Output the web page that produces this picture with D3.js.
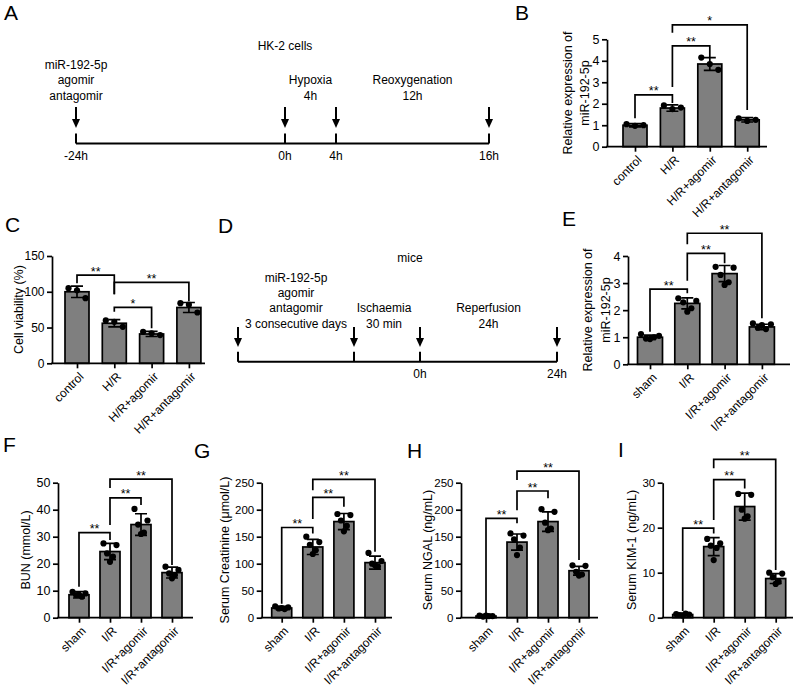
<!DOCTYPE html>
<html><head><meta charset="utf-8">
<script src="https://cdn.jsdelivr.net/npm/d3@7"></script>
<style>body{margin:0;background:#fff} svg{display:block;font-family:"Liberation Sans",Arial,sans-serif}</style>
</head><body><svg id="c" width="800" height="687"></svg>
<script>
// ================= DATA =================
// Panel A (HK-2 timeline)
const A_hours = [-24, 0, 4, 16];
const A_tickLabels = ["-24h", "0h", "4h", "16h"];
const A_title = "HK-2 cells";
const A_notes = [
  {between: [0, 0], lines: ["miR-192-5p", "agomir", "antagomir"]},
  {between: [1, 2], lines: ["Hypoxia", "4h"]},
  {between: [2, 3], lines: ["Reoxygenation", "12h"]}
];
// Panel D (mice timeline)
const D_hours = [-72, -0.5, 0, 24];
const D_tickLabels = ["", "", "0h", "24h"];
const D_title = "mice";
const D_notes = [
  {between: [0, 1], lines: ["miR-192-5p", "agomir", "antagomir", "3 consecutive days"]},
  {between: [1, 2], lines: ["Ischaemia", "30 min"]},
  {between: [2, 3], lines: ["Reperfusion", "24h"]}
];

// Panel B
const B_categories = ["control", "H/R", "H/R+agomir", "H/R+antagomir"];
const B_means = [1.0, 1.8, 3.85, 1.25];
const B_sd = [0.08, 0.15, 0.3, 0.1];
const B_points = [[1.05, 0.97, 1.0], [1.92, 1.75, 1.82], [4.15, 3.85, 3.58], [1.32, 1.2, 1.25]];
const B_ticks = [0, 1, 2, 3, 4, 5];
const B_sig = [[0, 1, 2.41, 1.33, 2.03, "**"], [1, 2, 4.69, 2.78, 4.18, "**"], [1, 3, 5.67, 5.3, 1.71, "*"]];
const B_ylabel = ["Relative expression of", "miR-192-5p"];

// Panel C
const C_categories = ["control", "H/R", "H/R+agomir", "H/R+antagomir"];
const C_means = [100, 56, 41, 78];
const C_sd = [8, 5, 3.5, 7];
const C_points = [[105, 102, 91], [60, 58, 51], [44, 42, 39.5], [84, 82, 71]];
const C_ticks = [0, 50, 100, 150];
const C_sig = [[0, 1, 123.4, 112, 96.4, "**"], [1, 3, 113, 96.4, 87, "**"], [1, 2, 78.2, 72, 49, "*"]];
const C_ylabel = ["Cell viability (%)"];

// Panel E
const E_categories = ["sham", "I/R", "I/R+agomir", "I/R+antagomir"];
const E_means = [1.0, 2.25, 3.35, 1.38];
const E_sd = [0.08, 0.2, 0.3, 0.1];
const E_points = [[1.12, 1.05, 0.95, 1.0, 0.93], [2.44, 2.34, 2.29, 2.07, 1.94], [3.6, 3.57, 3.3, 3.03, 2.93], [1.51, 1.48, 1.35, 1.3, 1.45]];
const E_ticks = [0, 1, 2, 3, 4];
const E_sig = [[0, 1, 2.78, 1.2, 2.62, "**"], [1, 2, 4.1, 3.09, 3.73, "**"], [1, 3, 4.84, 4.43, 1.7, "**"]];
const E_ylabel = ["Relative expression of", "miR-192-5p"];

// Panel F
const F_categories = ["sham", "I/R", "I/R+agomir", "I/R+antagomir"];
const F_means = [8.5, 24.5, 34.5, 16.7];
const F_sd = [1.2, 3, 4, 2];
const F_points = [[9.6, 9.0, 8.4, 7.8, 8.6], [27.5, 26.9, 23.8, 22.6, 20.7], [40.3, 36.0, 34.5, 31.5, 31.0], [18.9, 17.7, 16.4, 15.8, 14.6]];
const F_ticks = [0, 10, 20, 30, 40, 50];
const F_sig = [[0, 1, 31.5, 11.5, 28.8, "**"], [1, 2, 44.4, 34.3, 41.7, "**"], [1, 3, 51.3, 48, 19.5, "**"]];
const F_ylabel = ["BUN (mmol/L)"];

// Panel G
const G_categories = ["sham", "I/R", "I/R+agomir", "I/R+antagomir"];
const G_means = [18, 131, 178, 102];
const G_sd = [3, 14, 15, 12];
const G_points = [[21, 19, 17, 16, 18], [150, 140, 135, 125, 118], [192, 190, 180, 170, 160], [120, 105, 100, 95, 97]];
const G_ticks = [0, 50, 100, 150, 200, 250];
const G_sig = [[0, 1, 167, 26, 156, "**"], [1, 2, 223, 183, 205.6, "**"], [1, 3, 256, 236, 122, "**"]];
const G_ylabel = ["Serum Creatinine (\u03bcmol/L)"];

// Panel H
const H_categories = ["sham", "I/R", "I/R+agomir", "I/R+antagomir"];
const H_means = [3, 140, 178, 87];
const H_sd = [1, 15, 18, 8];
const H_points = [[4, 3, 2, 3, 4], [156, 152, 145, 130, 116], [201, 196, 176, 165, 162], [97, 96, 85, 80, 78]];
const H_ticks = [0, 50, 100, 150, 200, 250];
const H_sig = [[0, 1, 184, 8, 175, "**"], [1, 2, 234.6, 199, 221, "**"], [1, 3, 271.6, 255, 107, "**"]];
const H_ylabel = ["Serum NGAL (ng/mL)"];

// Panel I
const I_categories = ["sham", "I/R", "I/R+agomir", "I/R+antagomir"];
const I_means = [0.7, 15.8, 24.7, 8.7];
const I_sd = [0.2, 2, 3, 1.1];
const I_points = [[0.8, 0.7, 0.6, 0.9, 0.5], [17.5, 16.5, 16, 15.5, 12.8], [27.5, 27.3, 24, 22.5, 22], [10, 9.8, 9, 8, 7.5]];
const I_ticks = [0, 10, 20, 30];
const I_sig = [[0, 1, 19.9, 1.5, 18.7, "**"], [1, 2, 30.7, 21.7, 28.7, "**"], [1, 3, 35.2, 33.2, 10.6, "**"]];
const I_ylabel = ["Serum KIM-1 (ng/mL)"];

const panelLetters = ["A", "B", "C", "D", "E", "F", "G", "H", "I"];

// ================= DRAWING =================
const svg = d3.select("#c");
svg.append("rect").attr("width", 800).attr("height", 687).attr("fill", "#fff");
const FONT = "'Liberation Sans', Arial, sans-serif";
const LW = 1.7;

function timeline(L, hours, labels, title, notes) {
  const g = svg.append("g").attr("font-family", FONT).attr("font-size", 12);
  const x = d3.scaleLinear().domain(hours).range(L.xs);
  g.append("line").attr("x1", x(hours[0])).attr("x2", x(hours[hours.length - 1]))
    .attr("y1", L.y).attr("y2", L.y).attr("stroke", "#000").attr("stroke-width", 2);
  g.selectAll("line.tk").data(hours).join("line").attr("class", "tk")
    .attr("x1", d => x(d)).attr("x2", d => x(d)).attr("y1", L.y - 10).attr("y2", L.y)
    .attr("stroke", "#000").attr("stroke-width", 2);
  g.selectAll("line.ar").data(hours).join("line").attr("class", "ar")
    .attr("x1", d => x(d)).attr("x2", d => x(d)).attr("y1", L.arTop).attr("y2", L.arBot - 5)
    .attr("stroke", "#000").attr("stroke-width", 2);
  g.selectAll("path.ah").data(hours).join("path").attr("class", "ah")
    .attr("d", d => `M${x(d) - 4},${L.arBot - 9}L${x(d) + 4},${L.arBot - 9}L${x(d)},${L.arBot}Z`)
    .attr("fill", "#000");
  g.selectAll("text.tl").data(hours).join("text").attr("class", "tl")
    .attr("x", d => x(d)).attr("y", L.y + 16.5).attr("text-anchor", "middle")
    .text((d, i) => labels[i]);
  g.append("text").attr("x", L.titleX).attr("y", L.titleY).attr("text-anchor", "middle").text(title);
  notes.forEach((n, ni) => {
    const cx = (x(hours[n.between[0]]) + x(hours[n.between[1]])) / 2 + (L.noteShift ? L.noteShift[ni] : 0);
    const k = n.lines.length;
    n.lines.forEach((t, i) => {
      g.append("text").attr("x", cx).attr("y", L.noteBase - (k - 1 - i) * 15.3)
        .attr("text-anchor", "middle").text(t);
    });
  });
}

function barPanel(L, cats, means, sds, pts, ticks, sig, ylabel) {
  const g = svg.append("g").attr("font-family", FONT);
  const y = d3.scaleLinear().domain([0, d3.max(ticks)]).range([L.y0, L.yTop]);
  const x = d3.scalePoint().domain(cats).range([L.first, L.first + L.step * (cats.length - 1)]);
  const rows = cats.map((c, i) => ({c, m: means[i], sd: sds[i], p: pts[i]}));

  // bars
  g.selectAll("rect.bar").data(rows).join("rect").attr("class", "bar")
    .attr("x", d => x(d.c) - L.bw / 2).attr("width", L.bw)
    .attr("y", d => y(d.m)).attr("height", d => L.y0 - y(d.m))
    .attr("fill", "#7f7f7f").attr("stroke", "#000").attr("stroke-width", LW);

  // points
  const half = L.bw / 2 - 3.5;
  const pat = {3: [-1, 0, 1], 5: [-1, 1, -0.45, 0.45, 0]};
  rows.forEach(r => {
    const p = pat[r.p.length];
    g.selectAll(null).data(r.p).join("circle")
      .attr("cx", (d, i) => x(r.c) + p[i] * half).attr("cy", d => y(d)).attr("r", 3.1).attr("fill", "#000");
  });

  // error bars
  const cap = 6;
  rows.forEach(r => {
    const cx = x(r.c);
    g.append("path")
      .attr("d", `M${cx},${y(r.m - r.sd)}V${y(r.m + r.sd)}M${cx - cap},${y(r.m + r.sd)}H${cx + cap}M${cx - cap},${y(r.m - r.sd)}H${cx + cap}`)
      .attr("stroke", "#000").attr("stroke-width", LW).attr("fill", "none");
  });

  // y axis
  const ya = g.append("g").attr("transform", `translate(${L.ax},0)`)
    .call(d3.axisLeft(y).tickValues(ticks).tickFormat(d3.format("d")).tickSize(5).tickSizeOuter(0).tickPadding(2.5));
  ya.attr("font-family", FONT).attr("font-size", L.tfs || 12.5);
  ya.select(".domain").attr("stroke-width", LW).attr("stroke", "#000");
  ya.selectAll(".tick line").attr("stroke-width", LW).attr("stroke", "#000");
  ya.selectAll(".tick text").attr("fill", "#000");

  // x axis
  const xa = g.append("g").attr("transform", `translate(0,${L.y0})`)
    .call(d3.axisBottom(x).tickSize(5).tickSizeOuter(0));
  xa.select(".domain").remove();
  xa.attr("font-family", FONT).attr("font-size", 12);
  xa.selectAll(".tick line").attr("stroke-width", LW).attr("stroke", "#000");
  xa.selectAll(".tick text").attr("fill", "#000").attr("x", 0).attr("y", 0).attr("dy", "0.35em")
    .attr("text-anchor", "end").attr("transform", "translate(4,11) rotate(-45)");
  g.append("line").attr("x1", L.ax - LW / 2).attr("x2", L.xEnd).attr("y1", L.y0).attr("y2", L.y0)
    .attr("stroke", "#000").attr("stroke-width", LW);

  // significance brackets
  sig.forEach(([a, b, top, le, re, lab]) => {
    const xa1 = x(cats[a]), xb1 = x(cats[b]);
    g.append("path").attr("d", `M${xa1},${y(le)}V${y(top)}H${xb1}V${y(re)}`)
      .attr("fill", "none").attr("stroke", "#000").attr("stroke-width", LW);
    g.append("text").attr("x", (xa1 + xb1) / 2).attr("y", y(top) + 0.5)
      .attr("text-anchor", "middle").attr("font-size", 12.5).text(lab);
  });

  // y label
  ylabel.forEach((t, i) => {
    g.append("text").attr("transform", `translate(${L.titleX[i]},${L.titleY}) rotate(-90)`)
      .attr("text-anchor", "middle").attr("dy", "0.35em").attr("font-size", 12.5).text(t);
  });
}

timeline({xs: [76, 285, 336, 489], y: 143.5, arTop: 107, arBot: 128, titleX: 285, titleY: 50, noteBase: 99.5},
  A_hours, A_tickLabels, A_title, A_notes);
timeline({xs: [238, 354, 420, 557], y: 361.7, arTop: 327, arBot: 347, titleX: 410, titleY: 262, noteBase: 327.5, noteShift: [0, -3, 0]},
  D_hours, D_tickLabels, D_title, D_notes);

barPanel({ax: 607, y0: 146.7, yTop: 39.3, first: 635, step: 37.4, bw: 24, xEnd: 767, titleX: [568, 585], titleY: 93},
  B_categories, B_means, B_sd, B_points, B_ticks, B_sig, B_ylabel);
barPanel({ax: 52, y0: 363.3, yTop: 256, first: 77, step: 37.3, bw: 24, xEnd: 205, titleX: [19], titleY: 309.6, tfs: 12},
  C_categories, C_means, C_sd, C_points, C_ticks, C_sig, C_ylabel);
barPanel({ax: 628, y0: 364.3, yTop: 256, first: 650, step: 37.3, bw: 25, xEnd: 790, titleX: [588, 606], titleY: 310},
  E_categories, E_means, E_sd, E_points, E_ticks, E_sig, E_ylabel);
barPanel({ax: 58, y0: 617.7, yTop: 482.7, first: 79, step: 31, bw: 20, xEnd: 193, titleX: [26], titleY: 550},
  F_categories, F_means, F_sd, F_points, F_ticks, F_sig, F_ylabel);
barPanel({ax: 261.7, y0: 617.7, yTop: 482.7, first: 281.7, step: 31.1, bw: 20, xEnd: 392, titleX: [225], titleY: 550, tfs: 11.5},
  G_categories, G_means, G_sd, G_points, G_ticks, G_sig, G_ylabel);
barPanel({ax: 461, y0: 617.7, yTop: 482.7, first: 486, step: 31, bw: 20, xEnd: 598, titleX: [428], titleY: 550, tfs: 11.5},
  H_categories, H_means, H_sd, H_points, H_ticks, H_sig, H_ylabel);
barPanel({ax: 662.7, y0: 617.7, yTop: 482.7, first: 682.7, step: 31, bw: 20, xEnd: 793, titleX: [632], titleY: 550, tfs: 11.5},
  I_categories, I_means, I_sd, I_points, I_ticks, I_sig, I_ylabel);

// panel letters
const letterPos = [[4, 20], [515, 20], [5, 232], [218, 233], [562, 226], [3, 452], [194, 458], [407, 458], [618, 457]];
svg.append("g").attr("font-family", FONT).attr("font-size", 21)
  .selectAll("text").data(panelLetters).join("text")
  .attr("x", (d, i) => letterPos[i][0]).attr("y", (d, i) => letterPos[i][1]).text(d => d);
</script></body></html>
